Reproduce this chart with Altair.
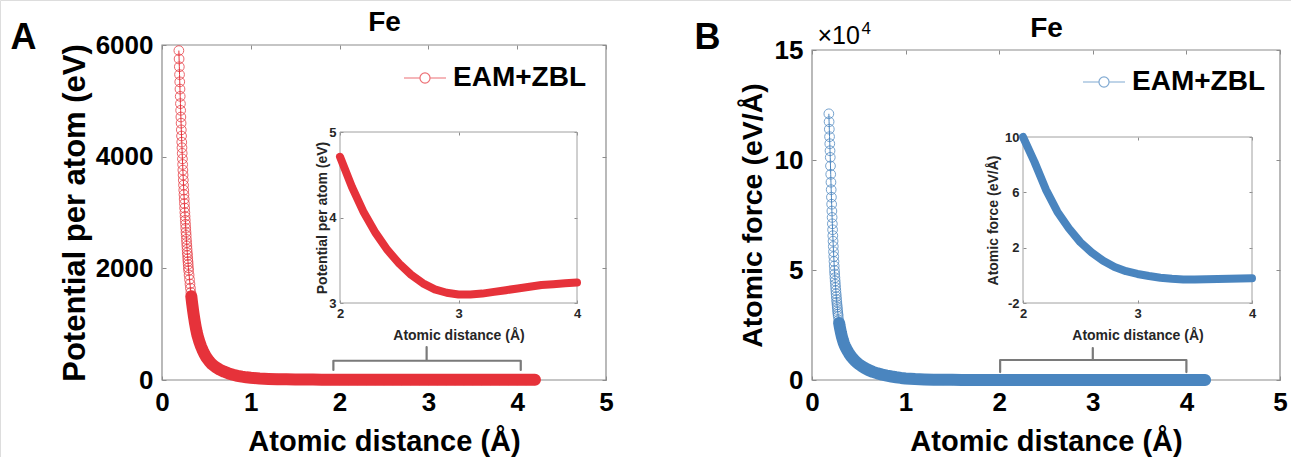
import altair as alt
import pandas as pd

FONT = "Liberation Sans"
RED = "#e6323a"
BLUE = "#4a85bf"
GRAY = "#8c8c8c"
INK = "#262626"
W, H = 1291, 457

series_name = ["EAM+ZBL"]
element = "Fe"
panel_letters = ["A", "B"]

# ---------------- data ----------------
r_pot = [0.19, 0.1925, 0.195, 0.1975, 0.2, 0.2025, 0.205, 0.2075, 0.21, 0.2125,
         0.215, 0.2175, 0.22, 0.2225, 0.225, 0.2275, 0.23, 0.2325, 0.235, 0.2375,
         0.24, 0.2425, 0.245, 0.2475, 0.25, 0.2525, 0.255, 0.2575, 0.26, 0.2625,
         0.265, 0.2675, 0.27, 0.2725, 0.275, 0.2775, 0.28, 0.2825, 0.285, 0.2875,
         0.29, 0.2925, 0.295, 0.2975, 0.3,
         0.305, 0.31, 0.315, 0.32, 0.325, 0.33, 0.335, 0.34, 0.345, 0.35,
         0.355, 0.36, 0.365, 0.37, 0.375, 0.38, 0.385, 0.39, 0.395, 0.4,
         0.42, 0.44, 0.46, 0.48, 0.5, 0.53, 0.56, 0.6, 0.65, 0.7, 0.75, 0.8,
         0.85, 0.9, 0.95, 1.0,
         1.1, 1.2, 1.3, 1.4, 1.5, 1.6, 1.7, 1.8, 1.9, 2.0, 2.1, 2.2, 2.3, 2.4,
         2.5, 2.6, 2.7, 2.8, 2.9, 3.0, 3.1, 3.2, 3.3, 3.4, 3.5, 3.6, 3.7, 3.8,
         3.9, 4.0, 4.1, 4.2]
v_pot = [5900, 5750, 5610, 5470, 5340, 5210, 5080, 4950, 4830, 4710,
         4600, 4480, 4370, 4260, 4160, 4060, 3960, 3860, 3760, 3670,
         3580, 3490, 3400, 3320, 3240, 3160, 3080, 3000, 2930, 2860,
         2790, 2720, 2650, 2590, 2520, 2460, 2400, 2340, 2280, 2230,
         2170, 2120, 2070, 2010, 1960,
         1880, 1800, 1720, 1645, 1570, 1500, 1430, 1365, 1305, 1245,
         1190, 1135, 1085, 1035, 990, 945, 905, 865, 830, 795,
         690, 600, 525, 460, 405, 340, 285, 235, 185, 148, 118, 94,
         75, 60, 48, 39,
         27, 19, 14.5, 11.5, 9.5, 8.0, 6.8, 5.9, 5.2, 4.71, 4.36, 4.06, 3.82, 3.62,
         3.46, 3.33, 3.23, 3.16, 3.12, 3.10, 3.10, 3.11, 3.13, 3.15, 3.17, 3.19, 3.21, 3.22,
         3.23, 3.24, 3.25, 3.26]

r_force = [0.18, 0.1825, 0.185, 0.1875, 0.19, 0.1925, 0.195, 0.1975, 0.2, 0.2025,
           0.205, 0.2075, 0.21, 0.2125, 0.215, 0.2175, 0.22, 0.2225, 0.225, 0.2275,
           0.23, 0.2325, 0.235, 0.2375, 0.24, 0.2425, 0.245, 0.2475, 0.25, 0.2525,
           0.255, 0.2575, 0.26, 0.2625, 0.265, 0.2675, 0.27, 0.2725, 0.275, 0.2775,
           0.28,
           0.285, 0.29, 0.295, 0.3,
           0.31, 0.32, 0.33, 0.34, 0.35, 0.36, 0.37, 0.38, 0.39, 0.4,
           0.42, 0.44, 0.46, 0.48, 0.5, 0.53, 0.56, 0.6, 0.65, 0.7, 0.75, 0.8,
           0.85, 0.9, 0.95, 1.0,
           1.1, 1.2, 1.3, 1.4, 1.5, 1.6, 1.7, 1.8, 1.9, 2.0, 2.1, 2.2, 2.3, 2.4,
           2.5, 2.6, 2.7, 2.8, 2.9, 3.0, 3.1, 3.2, 3.3, 3.4, 3.5, 3.6, 3.7, 3.8,
           3.9, 4.0, 4.1, 4.2]
f_force = [121000, 117400, 114000, 110600, 107400, 104200, 101200, 97300, 93500, 89900,
           86500, 83100, 79900, 76800, 73900, 71000, 68300, 65600, 63100, 60700,
           58300, 56100, 53900, 51800, 49800, 48200, 46500, 45000, 43500, 42000,
           40600, 39200, 37900, 36600, 35400, 34200, 33100, 32000, 30900, 29900,
           28900,
           27300, 25900, 24600, 23500,
           21400, 19600, 18100, 16800, 15700, 14800, 14000, 13200, 12500, 11800,
           10600, 9600, 8700, 7900, 7200, 6300, 5500, 4600, 3700, 3000, 2450, 2000,
           1600, 1250, 950, 720,
           420, 250, 150, 92, 58, 38, 26, 18, 13.2, 10.0, 8.2, 6.2, 4.6, 3.4,
           2.4, 1.65, 1.05, 0.6, 0.3, 0.1, -0.05, -0.17, -0.25, -0.3, -0.31, -0.29, -0.27, -0.25,
           -0.23, -0.21, -0.2, -0.19]

bracket_order = [0, 1, 2, 3, 4, 5, 6]
bracket_a_r = [1.93, 1.93, 2.98, 2.98, 2.98, 4.04, 4.04]
bracket_a_v = [180, 345, 345, 590, 345, 345, 180]
bracket_b_r = [2.01, 2.01, 3.0, 3.0, 3.0, 4.0, 4.0]
bracket_b_f = [3600, 9100, 9100, 14500, 9100, 9100, 3600]

ticks_main_x = [0, 1, 2, 3, 4, 5]
ticks_pot_y = [0, 2000, 4000, 6000]
ticks_force_y = [0, 5, 10, 15]
ticks_inset_x = [2, 3, 4]
ticks_inset_pot = [3, 4, 5]
ticks_inset_force = [-2, 2, 6, 10]

# ---------------- layout (pixels on the page) ----------------
GA = {"x": [162, 606], "y": [380, 45]}
GAi = {"x": [340, 577], "y": [303, 132]}
GB = {"x": [812, 1280], "y": [380, 50]}
GBi = {"x": [1023, 1252], "y": [303, 137]}

pot = pd.DataFrame({"r": r_pot, "val": v_pot, "series": series_name[0]})
force = pd.DataFrame({"r": r_force, "val": f_force, "series": series_name[0]})
brA = pd.DataFrame({"i": bracket_order, "r": bracket_a_r, "val": bracket_a_v})
brB = pd.DataFrame({"i": bracket_order, "r": bracket_b_r, "val": bracket_b_f})

PLAIN = "'' + datum.value"


def sc(dom, rng):
    return alt.Scale(domain=dom, range=rng, nice=False, zero=False)


def label_axes(g, xvals, yvals, lfs, lpx, lpy, xtfs, ytfs, xtitle, ytitle, xt_y, yt_x, color):
    ax = alt.Axis(orient="bottom", offset=g["y"][0] - H, values=xvals, ticks=False, tickSize=0,
                  domain=False, grid=False, labelFont=FONT, labelFontSize=lfs,
                  labelFontWeight="bold", labelColor=color, labelPadding=lpx,
                  labelExpr=PLAIN,
                  labelFlush=False, labelOverlap=False, title=xtitle, titleFont=FONT,
                  titleFontSize=xtfs, titleFontWeight="bold", titleColor=color,
                  titleX=(g["x"][0] + g["x"][1]) / 2, titleY=xt_y - g["y"][0],
                  titleAngle=0, titleAlign="center", titleBaseline="middle")
    ay = alt.Axis(orient="left", offset=-g["x"][0], values=yvals, ticks=False, tickSize=0,
                  domain=False, grid=False, labelFont=FONT, labelFontSize=lfs,
                  labelFontWeight="bold", labelColor=color, labelPadding=lpy,
                  labelExpr=PLAIN,
                  labelFlush=False, labelOverlap=False, title=ytitle, titleFont=FONT,
                  titleFontSize=ytfs, titleFontWeight="bold", titleColor=color,
                  titleX=yt_x - g["x"][0], titleY=(g["y"][0] + g["y"][1]) / 2,
                  titleAngle=270, titleAlign="center", titleBaseline="middle")
    return ax, ay


def tick_axis(orient, g, values, t, title=None, tx=0, ty=0, tsize=28, tweight="bold",
              talign="center", tbase="middle"):
    if orient == "bottom":
        off = g["y"][0] - t - H
        ox, oy = 0, g["y"][0] - t
    elif orient == "top":
        off = -(g["y"][1] + t)
        ox, oy = 0, g["y"][1] + t
    elif orient == "left":
        off = -(g["x"][0] + t)
        ox, oy = g["x"][0] + t, 0
    else:
        off = g["x"][1] - t - W
        ox, oy = g["x"][1] - t, 0
    kw = dict(orient=orient, offset=off, values=values, domain=False, labels=False,
              ticks=True, tickSize=t, tickColor=GRAY, tickWidth=1, grid=False)
    if title is None:
        kw["title"] = None
    else:
        kw.update(title=title, titleX=tx - ox, titleY=ty - oy, titleFont=FONT,
                  titleFontSize=tsize, titleFontWeight=tweight, titleColor="black",
                  titleAngle=0, titleAlign=talign, titleBaseline=tbase)
    return alt.Axis(**kw)


SYM = "M-1,0L-0.24,0M0.24,0L1,0M0.24,0A0.24,0.24,0,1,1,-0.24,0A0.24,0.24,0,1,1,0.24,0"


def legend(x, y, color):
    return alt.Legend(orient="none", legendX=x, legendY=y, title=None, padding=0,
                      symbolType=SYM, symbolSize=1764, symbolStrokeWidth=1.2,
                      symbolStrokeColor=color, symbolFillColor="transparent",
                      symbolOpacity=0.7, labelFont=FONT, labelFontSize=28,
                      labelFontWeight="bold", labelColor="black", labelOffset=6)


def build_panel(df, scale_div, g, gi, xdom, ydom, ydom_i, yvals, yvals_i, color,
                ytitle, ytfs, yt_x, yti_x, band_from, br, leg_xy, letter, letter_xy,
                fe_y, extra_top=None):
    calc_main = f"datum.val / {scale_div}"
    base = alt.Chart(df).transform_calculate(y=calc_main)
    ax, ay = label_axes(g, ticks_main_x, yvals, 26, 9, 9, 29, ytfs, "Atomic distance (Å)",
                        ytitle, 441, yt_x, "black")

    def X(axis):
        return alt.X("r:Q", scale=sc(xdom, g["x"]), axis=axis)

    def Y(axis):
        return alt.Y("y:Q", scale=sc(ydom, g["y"]), axis=axis)

    frame_df = pd.DataFrame({"x0": [xdom[0]], "x1": [xdom[1]], "y0": [ydom[0]], "y1": [ydom[1]]})
    frame = alt.Chart(frame_df).mark_rect(fillOpacity=0, stroke=GRAY, strokeWidth=1.2).encode(
        x=alt.X("x0:Q", scale=sc(xdom, g["x"]), axis=None), x2="x1:Q",
        y=alt.Y("y0:Q", scale=sc(ydom, g["y"]), axis=None), y2="y1:Q")
    circles = base.mark_point(shape="circle", filled=False, size=95, strokeWidth=1,
                              opacity=0.75).encode(
        x=X(None), y=Y(None),
        color=alt.Color("series:N", scale=alt.Scale(domain=series_name, range=[color]),
                        legend=legend(leg_xy[0], leg_xy[1], color)))
    thin = base.mark_line(color=color, strokeWidth=1).encode(x=X(None), y=Y(None))
    band = base.transform_filter(f"datum.r >= {band_from}").mark_line(
        color=color, strokeWidth=12, strokeCap="round", strokeJoin="round").encode(
        x=X(None), y=Y(None))
    bracket = alt.Chart(br).transform_calculate(y=calc_main).mark_line(
        color="#7a7a7a", strokeWidth=2.2, strokeJoin="round", strokeCap="round").encode(
        x=X(None), y=Y(None), order="i:Q")
    main = alt.layer(frame, circles, thin, band, bracket)
    lab = base.mark_point(opacity=0).encode(x=X(ax), y=Y(ay))

    t = 4
    if extra_top is not None:
        tbl_x = tick_axis("bottom", g, ticks_main_x, t, extra_top[0]["text"],
                          extra_top[0]["x"], extra_top[0]["y"], extra_top[0]["size"],
                          "normal", "left", "alphabetic")
        tbl_y = tick_axis("left", g, yvals, t, extra_top[1]["text"],
                          extra_top[1]["x"], extra_top[1]["y"], extra_top[1]["size"],
                          "normal", "left", "alphabetic")
    else:
        tbl_x = tick_axis("bottom", g, ticks_main_x, t)
        tbl_y = tick_axis("left", g, yvals, t)
    tbl = base.mark_point(opacity=0).encode(x=X(tbl_x), y=Y(tbl_y))
    ttr = base.mark_point(opacity=0).encode(
        x=X(tick_axis("top", g, ticks_main_x, t, element, (g["x"][0] + g["x"][1]) / 2, fe_y, 28)),
        y=Y(tick_axis("right", g, yvals, t, letter, letter_xy[0], letter_xy[1], 36)))

    # ----- inset -----
    ibase = alt.Chart(df).transform_filter("datum.r >= 2 && datum.r <= 4").transform_calculate(
        y="datum.val")
    iax, iay = label_axes(gi, ticks_inset_x, yvals_i, 13, 4, 4, 14, 14, "Atomic distance (Å)",
                          ytitle, 335, yti_x, INK)

    def XI(axis):
        return alt.X("r:Q", scale=sc([2, 4], gi["x"]), axis=axis)

    def YI(axis):
        return alt.Y("y:Q", scale=sc(ydom_i, gi["y"]), axis=axis)

    iframe_df = pd.DataFrame({"x0": [2], "x1": [4], "y0": [ydom_i[0]], "y1": [ydom_i[1]]})
    iframe = alt.Chart(iframe_df).mark_rect(fillOpacity=0, stroke="#a0a0a0", strokeWidth=1).encode(
        x=alt.X("x0:Q", scale=sc([2, 4], gi["x"]), axis=None), x2="x1:Q",
        y=alt.Y("y0:Q", scale=sc(ydom_i, gi["y"]), axis=None), y2="y1:Q")
    iband = ibase.mark_line(color=color, strokeWidth=8, strokeCap="round",
                            strokeJoin="round").encode(x=XI(None), y=YI(None))
    inset = alt.layer(iframe, iband)
    ilab = ibase.mark_point(opacity=0).encode(x=XI(iax), y=YI(iay))
    ti = 3
    itbl = ibase.mark_point(opacity=0).encode(
        x=XI(tick_axis("bottom", gi, ticks_inset_x, ti)),
        y=YI(tick_axis("left", gi, yvals_i, ti)))
    ittr = ibase.mark_point(opacity=0).encode(
        x=XI(tick_axis("top", gi, ticks_inset_x, ti)),
        y=YI(tick_axis("right", gi, yvals_i, ti)))
    return [main, lab, tbl, ttr, inset, ilab, itbl, ittr]


layers_a = build_panel(pot, 1, GA, GAi, [0, 5], [0, 6000], [3, 5], ticks_pot_y, ticks_inset_pot,
                       RED, "Potential per atom (eV)", 31, 75, 322, 0.33, brA, (403, 56),
                       panel_letters[0], (23, 37), 22)
layers_b = build_panel(force, 10000, GB, GBi, [0, 5], [0, 15], [-2, 10], ticks_force_y,
                       ticks_inset_force, BLUE, "Atomic force (eV/Å)", 28.5, 752, 993, 0.29, brB,
                       (1082, 60), panel_letters[1], (707, 37), 28,
                       extra_top=[{"text": "×10", "x": 817, "y": 43, "size": 25},
                                  {"text": "4", "x": 861, "y": 33, "size": 17}])

chart = alt.layer(*layers_a, *layers_b).resolve_scale(
    x="independent", y="independent", color="independent"
).resolve_legend(color="independent").properties(
    width=W, height=H, autosize=alt.AutoSizeParams(type="none"), padding=0
).configure_view(stroke=None).configure(background="white")

chart.save("out.html", embed_options={"renderer": "svg", "actions": False})
